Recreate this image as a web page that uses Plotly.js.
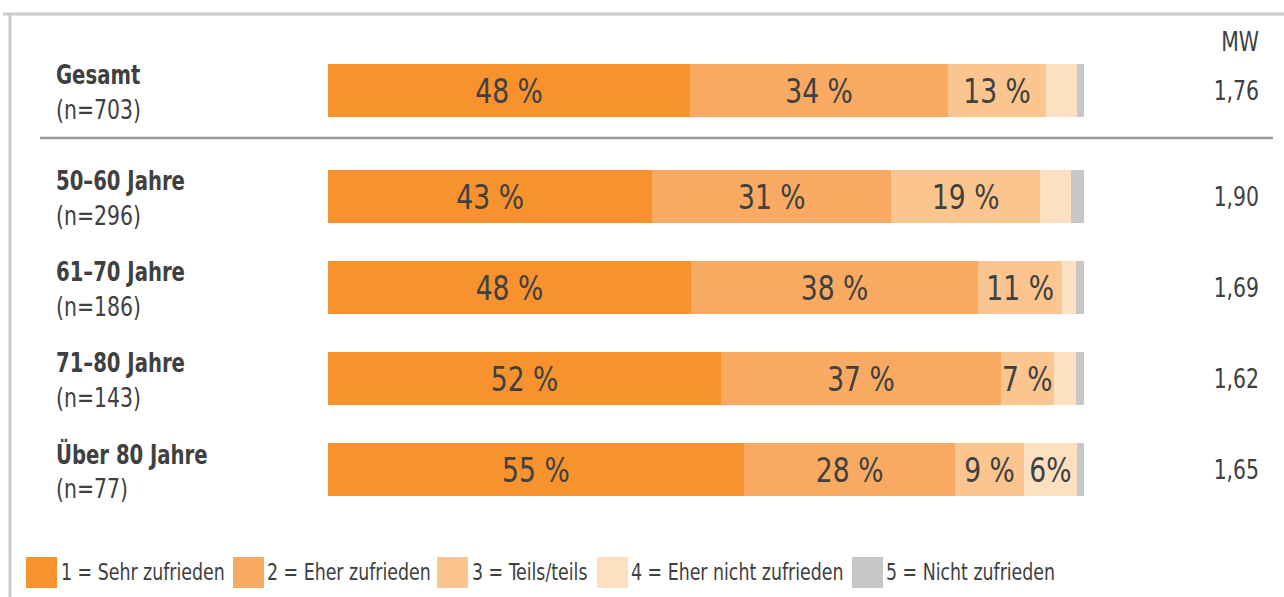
<!DOCTYPE html>
<html>
<head>
<meta charset="utf-8">
<script src="https://cdn.plot.ly/plotly-3.0.1.min.js"></script>
<style>
  html, body { margin: 0; padding: 0; background: #ffffff; }
  #chart { width: 1284px; height: 597px; }
</style>
</head>
<body>
<div id="chart"></div>
<script>
// ---------- DATA ----------
const categories = ['Gesamt', '50–60 Jahre', '61–70 Jahre', '71–80 Jahre', 'Über 80 Jahre'];
const sampleSizes = ['(n=703)', '(n=296)', '(n=186)', '(n=143)', '(n=77)'];
const meanValues = ['1,76', '1,90', '1,69', '1,62', '1,65'];
const meanHeader = 'MW';
const seriesNames = ['1 = Sehr zufrieden', '2 = Eher zufrieden', '3 = Teils/teils', '4 = Eher nicht zufrieden', '5 = Nicht zufrieden'];

// segment shares (%)
const sehrZufrieden      = [47.9, 42.9, 48.0, 52.0, 55.0];
const eherZufrieden      = [34.1, 31.6, 38.0, 37.0, 28.0];
const teilsTeils         = [13.0, 19.7, 11.1, 7.0, 9.0];
const eherNichtZufrieden = [4.1, 4.1, 1.9, 2.9, 7.1];
const nichtZufrieden     = [0.9, 1.7, 1.2, 1.2, 1.1];

// printed segment labels
const labelsSehr      = ['48 %', '43 %', '48 %', '52 %', '55 %'];
const labelsEher      = ['34 %', '31 %', '38 %', '37 %', '28 %'];
const labelsTeils     = ['13 %', '19 %', '11 %', '7 %', '9 %'];
const labelsEherNicht = ['', '', '', '', '6%'];
const labelsNicht     = ['', '', '', '', ''];

// ---------- STYLE ----------
const colors = ['#F7922F', '#F8AA63', '#FBC58F', '#FDE0C2', '#C6C6C6'];
const textColor = '#404040';
const FONT = '"DejaVu Sans Condensed", "Liberation Sans Narrow", sans-serif';

const W = 1284, H = 597;
const plotL = 328, plotR = 1084;           // x-range 0..100 in pixels
const firstCenter = 90.5, rowStep = 91;    // pixel geometry of the rows
const groupGap = 0.165;                    // extra gap after "Gesamt"

const xp = px => (px - plotL) / (plotR - plotL);
const yp = py => 1 - py / H;

const positions = categories.map((c, i) => i === 0 ? 0 : i + groupGap);

const seriesValues = [sehrZufrieden, eherZufrieden, teilsTeils, eherNichtZufrieden, nichtZufrieden];
const seriesLabels = [labelsSehr, labelsEher, labelsTeils, labelsEherNicht, labelsNicht];

const traces = seriesValues.map((vals, s) => ({
  type: 'bar',
  orientation: 'h',
  name: seriesNames[s],
  x: vals,
  y: positions,
  width: 0.582,
  marker: { color: colors[s], line: { width: 0 } },
  text: seriesLabels[s],
  textposition: 'inside',
  insidetextanchor: 'middle',
  constraintext: 'none',
  textangle: 0,
  textfont: { family: FONT, size: 34, color: textColor },
  hoverinfo: 'skip',
  showlegend: false
}));

const annotations = [];
const shapes = [];

categories.forEach((cat, i) => {
  annotations.push({
    xref: 'paper', yref: 'y', x: xp(54), y: positions[i],
    xanchor: 'left', align: 'left', yanchor: 'middle', yshift: 16,
    text: '<b>' + cat + '</b>', showarrow: false,
    font: { family: FONT, size: 26, color: textColor }
  });
  annotations.push({
    xref: 'paper', yref: 'y', x: xp(54), y: positions[i],
    xanchor: 'left', align: 'left', yanchor: 'middle', yshift: -19,
    text: sampleSizes[i], showarrow: false,
    font: { family: FONT, size: 27, color: textColor }
  });
  annotations.push({
    xref: 'paper', yref: 'y', x: xp(1261), y: positions[i],
    xanchor: 'right', align: 'right', yanchor: 'middle',
    text: meanValues[i], showarrow: false,
    font: { family: FONT, size: 27, color: textColor }
  });
});

annotations.push({
  xref: 'paper', yref: 'paper', x: xp(1261), y: yp(41),
  xanchor: 'right', align: 'right', yanchor: 'middle',
  text: meanHeader, showarrow: false,
  font: { family: FONT, size: 27, color: textColor }
});

// frame lines
shapes.push({ type: 'line', xref: 'paper', yref: 'paper', x0: xp(3), x1: xp(1284), y0: yp(14), y1: yp(14), line: { color: '#CCCCCC', width: 3 } });
shapes.push({ type: 'line', xref: 'paper', yref: 'paper', x0: xp(10), x1: xp(10), y0: yp(14), y1: yp(597), line: { color: '#CCCCCC', width: 3 } });
// separator below "Gesamt"
shapes.push({ type: 'line', xref: 'paper', yref: 'paper', x0: xp(40), x1: xp(1273), y0: yp(138), y1: yp(138), line: { color: '#9B9B9B', width: 2.5 } });

// custom legend
const swatchX = [26, 233, 437, 597, 852];
const legendTextX = [59, 265, 470, 629, 884];
seriesNames.forEach((nm, s) => {
  shapes.push({ type: 'rect', xref: 'paper', yref: 'paper', x0: xp(swatchX[s]), x1: xp(swatchX[s] + 31), y0: yp(557), y1: yp(588), fillcolor: colors[s], line: { width: 0 } });
  annotations.push({
    xref: 'paper', yref: 'paper', x: xp(legendTextX[s]), y: yp(572),
    xanchor: 'left', align: 'left', yanchor: 'middle', text: nm, showarrow: false,
    font: { family: FONT, size: 23, color: textColor }
  });
});

const yTop = -firstCenter / rowStep;
const yBottom = (H - firstCenter) / rowStep;

const layout = {
  width: W, height: H,
  margin: { l: plotL, r: W - plotR, t: 0, b: 0, pad: 0 },
  paper_bgcolor: '#ffffff', plot_bgcolor: '#ffffff',
  barmode: 'stack',
  showlegend: false,
  xaxis: { range: [0, 100], visible: false, fixedrange: true },
  yaxis: { range: [yBottom, yTop], visible: false, fixedrange: true },
  annotations: annotations,
  shapes: shapes,
  hovermode: false,
  font: { family: FONT, color: textColor }
};

// narrow the condensed font a little more, like the reference typeface
function condense(gd) {
  gd.querySelectorAll('svg text').forEach(el => {
    if (!el.textContent.trim()) return;
    const f = el.classList.contains('bartext') ? 0.87 : 0.84;
    const len = el.getComputedTextLength();
    el.setAttribute('textLength', (len * f).toFixed(2));
    el.setAttribute('lengthAdjust', 'spacingAndGlyphs');
  });
}

Plotly.newPlot('chart', traces, layout, { displayModeBar: false, staticPlot: true }).then(condense);
</script>
</body>
</html>
